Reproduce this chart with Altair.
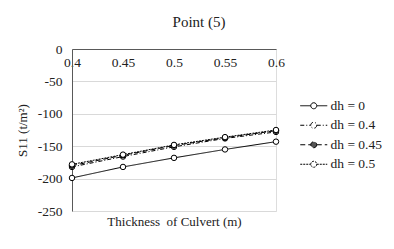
import altair as alt
import pandas as pd

thickness = [0.4, 0.45, 0.5, 0.55, 0.6]
series = ["dh = 0", "dh = 0.4", "dh = 0.45", "dh = 0.5"]
s_dh0 = [-199, -182, -168, -155, -143]
s_dh04 = [-182, -166, -151, -138, -128]
s_dh045 = [-180, -164, -149, -137, -126]
s_dh05 = [-178, -163, -148, -136, -125]
y_ticks = [0, -50, -100, -150, -200, -250]

rows = []
for name, vals in zip(series, [s_dh0, s_dh04, s_dh045, s_dh05]):
    for t, v in zip(thickness, vals):
        rows.append({"t": t, "s": v, "series": name})
df = pd.DataFrame(rows)

FONT = "Liberation Serif"
xdom = [0.4, 0.6]
ydom = [-250, 0]

dash_scale = alt.Scale(domain=series, range=[[1, 0], [4, 2, 1, 2], [5, 3], [2, 1]])
fill_scale = alt.Scale(domain=series, range=["white", "white", "#555555", "white"])

legend_symbol = ("M-2.7,0L-0.6,0M0.6,0L2.7,0"
                 "M0.6,0A0.6,0.6 0 1,1 -0.6,0A0.6,0.6 0 1,1 0.6,0")


def y_axis():
    return alt.Axis(values=y_ticks, title="S11 (t/m²)", format="d",
                    labelExpr="replace(datum.label, '−', '-')",
                    titleFont=FONT, titleFontSize=13, titleFontWeight="normal",
                    titleColor="#222", titlePadding=8,
                    labelFont=FONT, labelFontSize=13.5, labelColor="#222",
                    labelOverlap=False, labelFlush=False, labelBound=False,
                    ticks=False, labelPadding=10, domainColor="#595959",
                    gridColor="#d9d9d9")


lines = alt.Chart(df).mark_line(color="black", strokeWidth=1).encode(
    x=alt.X("t:Q", scale=alt.Scale(domain=xdom, nice=False, zero=False),
            axis=alt.Axis(orient="bottom", offset=-162, values=thickness, format="~g",
                          title=None, grid=False, ticks=False, domainColor="#595959",
                          labelFont=FONT, labelFontSize=13.5, labelColor="#222",
                          labelPadding=6, labelOverlap=False, labelFlush=False,
                          labelBound=False)),
    y=alt.Y("s:Q", scale=alt.Scale(domain=ydom, nice=False), axis=y_axis()),
    strokeDash=alt.StrokeDash("series:N", scale=dash_scale,
                              legend=alt.Legend(title=None, orient="none", legendX=235,
                                                legendY=50, symbolType=legend_symbol,
                                                symbolStrokeColor="black", symbolSize=100,
                                                symbolFillColor="white",
                                                symbolStrokeWidth=1, labelOffset=10,
                                                labelFont=FONT, labelFontSize=13.5,
                                                labelColor="#222", rowPadding=4.5)),
)

points = alt.Chart(df).mark_point(shape="circle", size=30, stroke="black",
                                  strokeWidth=1, filled=False, opacity=1).encode(
    x=alt.X("t:Q", scale=alt.Scale(domain=xdom, nice=False, zero=False),
            axis=alt.Axis(orient="bottom", labels=False, ticks=False, domain=False,
                          grid=False, title="Thickness\u00a0 of Culvert (m)",
                          titleFont=FONT, titleFontSize=13, titleFontWeight="normal",
                          titleColor="#222", titlePadding=4)),
    y=alt.Y("s:Q", scale=alt.Scale(domain=ydom, nice=False), axis=y_axis()),
    fill=alt.Fill("series:N", scale=fill_scale, legend=None),
)

chart = alt.layer(lines, points).resolve_scale(x="independent").properties(
    width=204, height=162,
    title=alt.TitleParams("Point (5)", font=FONT, fontSize=15, fontWeight="normal",
                          color="#222", anchor="middle", dx=25, offset=12),
    autosize=alt.AutoSizeParams(type="none"),
    padding={"left": 64, "top": 41, "right": 110, "bottom": 22},
).configure_view(stroke=None).configure(background="white")

chart.save("out.html", embed_options={"renderer": "svg", "actions": False})
